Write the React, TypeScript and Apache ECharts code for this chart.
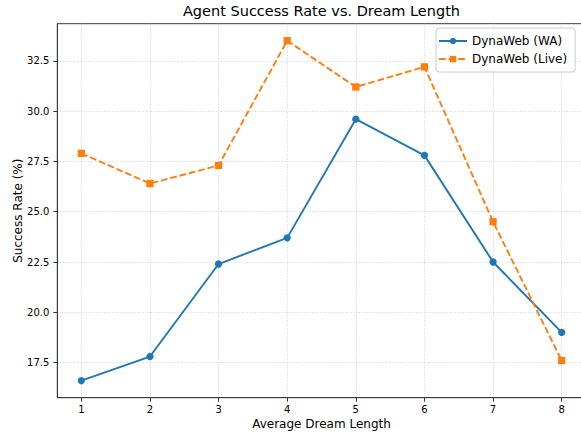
import React, { useEffect, useRef } from "react";
import * as echarts from "echarts";

const dreamLengths = [1, 2, 3, 4, 5, 6, 7, 8];
const waValues = [16.6, 17.8, 22.4, 23.7, 29.6, 27.8, 22.5, 19.0];
const liveValues = [27.9, 26.4, 27.3, 33.5, 31.2, 32.2, 24.5, 17.6];
const xTicks = [1, 2, 3, 4, 5, 6, 7, 8];
const yTicks = [17.5, 20.0, 22.5, 25.0, 27.5, 30.0, 32.5];

const FONT = "DejaVu Sans";

export default function App() {
  const ref = useRef<HTMLDivElement>(null);
  useEffect(() => {
    if (!ref.current) return;
    const chart = echarts.init(ref.current, undefined, { renderer: "svg" });
    const splitLine = {
      show: true,
      lineStyle: { color: "#cccccc", width: 0.8, type: [1, 1.6] as any },
    };
    chart.setOption({
      animation: false,
      backgroundColor: "#ffffff",
      title: {
        text: "Agent Success Rate vs. Dream Length",
        left: 321.5,
        textAlign: "center",
        top: 3,
        padding: 0,
        textStyle: { fontFamily: FONT, fontSize: 14.5, fontWeight: "normal", color: "#000" },
      },
      grid: {
        left: 57.3,
        top: 23.7,
        width: 528.4,
        height: 374,
        outerBoundsMode: "none",
        containLabel: false,
        show: true,
        borderColor: "#3a3a3a",
        borderWidth: 1,
        backgroundColor: "transparent",
      },
      legend: {
        orient: "vertical",
        left: 436,
        top: 28,
        width: 143,
        padding: [6, 8, 6, 2],
        itemGap: 4,
        itemWidth: 28,
        itemHeight: 8,
        borderColor: "#cccccc",
        borderWidth: 1,
        borderRadius: 3,
        backgroundColor: "rgba(255,255,255,0.8)",
        textStyle: { fontFamily: FONT, fontSize: 12, color: "#000", lineHeight: 14 },
        data: ["DynaWeb (WA)", "DynaWeb (Live)"],
      },
      xAxis: {
        type: "value",
        min: 0.65,
        max: 8.35,
        name: "Average Dream Length",
        nameLocation: "middle",
        nameGap: 20,
        nameMoveOverlap: false,
        nameTextStyle: { fontFamily: FONT, fontSize: 12, color: "#000" },
        axisLine: { show: true, lineStyle: { color: "#3a3a3a", width: 1 } },
        axisTick: { show: true, length: 4, customValues: xTicks, lineStyle: { color: "#3a3a3a" } },
        axisLabel: {
          customValues: xTicks,
          fontFamily: FONT,
          fontSize: 10,
          color: "#000",
          margin: 7,
          formatter: (v: number) => String(v),
        },
        splitLine,
      },
      yAxis: {
        type: "value",
        min: 15.755,
        max: 34.345,
        name: "Success Rate (%)",
        nameLocation: "middle",
        nameGap: 33,
        nameMoveOverlap: false,
        nameTextStyle: { fontFamily: FONT, fontSize: 12, color: "#000" },
        axisLine: { show: true, lineStyle: { color: "#3a3a3a", width: 1 } },
        axisTick: { show: true, length: 4, customValues: yTicks, lineStyle: { color: "#3a3a3a" } },
        axisLabel: {
          customValues: yTicks,
          fontFamily: FONT,
          fontSize: 10,
          color: "#000",
          margin: 8,
          formatter: (v: number) => v.toFixed(1),
        },
        splitLine,
      },
      series: [
        {
          name: "DynaWeb (WA)",
          type: "line",
          data: dreamLengths.map((x, i) => [x, waValues[i]]),
          symbol: "circle",
          symbolSize: 7.3,
          itemStyle: { color: "#1f77b4" },
          lineStyle: { color: "#1f77b4", width: 1.9 },
          z: 3,
        },
        {
          name: "DynaWeb (Live)",
          type: "line",
          data: dreamLengths.map((x, i) => [x, liveValues[i]]),
          symbol: "rect",
          symbolSize: 7.3,
          itemStyle: { color: "#ff7f0e" },
          lineStyle: { color: "#ff7f0e", width: 1.9, type: [6.7, 2.9] as any },
          z: 4,
        },
      ],
    });
    return () => chart.dispose();
  }, []);
  return <div ref={ref} style={{ width: 581, height: 435, position: "absolute", left: 0, top: 0 }} />;
}
